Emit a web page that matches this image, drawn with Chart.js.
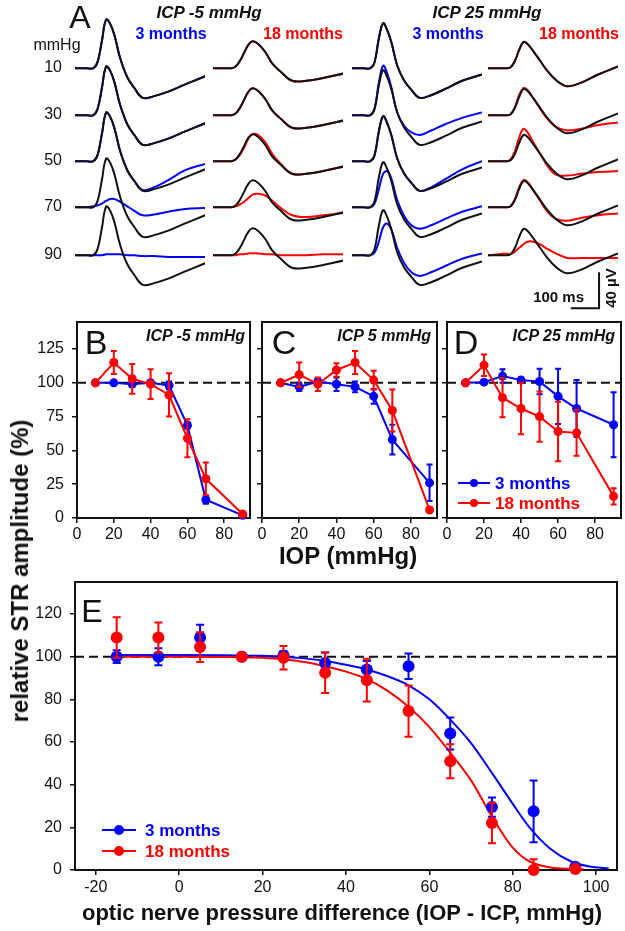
<!DOCTYPE html>
<html lang="en">

<head>
    <meta charset="UTF-8">
    <title>STR amplitude vs IOP and ICP</title>
    <script src="https://cdn.jsdelivr.net/npm/chart.js"></script>
    <style>
        html,
        body {
            margin: 0;
            padding: 0;
            background-color: #fff;
        }

        body {
            width: 625px;
            height: 931px;
            position: relative;
            overflow: hidden;
            font-family: "Liberation Sans", Arial, sans-serif;
            color: #111;
        }

        canvas {
            position: absolute;
        }

        .txt {
            position: absolute;
            white-space: nowrap;
            line-height: 1;
        }
    </style>
</head>

<body>
    <script>
        const BLUE = '#0000ff';
        const RED = '#ff0000';
        const seriesNames = ['3 months', '18 months'];

        // ---- Panel A: STR waveforms (time in ms, amplitude in µV) ----
        const waveTimeMs = [0, 40, 65, 80, 95, 110, 125, 140, 160, 185, 210, 240, 280, 330, 390, 460];
        const iopSteps = ['10', '30', '50', '70', '90'];

        const baseline3mIcpLow = [0, 0, 0, 7, 30, 54, 49, 36, 11, -10, -22, -33, -31, -26, -18, -9];
        const traces3mIcpLow = [
            [0, 0, 0, 7, 30, 54, 49, 36, 11, -10, -22, -33, -31, -26, -18, -9],
            [0, 0, 0, 7, 30, 54, 49, 36, 11, -10, -22, -33, -31, -26, -18, -9],
            [0, 0, 0, 7, 30, 54, 49, 36, 11, -10, -22, -32, -29, -21, -10, -3],
            [0, 0, 1, 2, 4, 7, 9, 9, 6, 1, -4, -9, -8, -5, -2, -1],
            [0, 0, 0, 0, 0, 1, 1, 1, 1, 0, 0, -1, -1, -2, -2, -2]
        ];

        const baseline18mIcpLow = [0, 0, 0, 2, 8, 17, 26, 30, 27, 18, 5, -4, -14, -14, -11, -6];
        const traces18mIcpLow = [
            [0, 0, 0, 2, 8, 17, 26, 30, 27, 18, 5, -4, -14, -14, -11, -6],
            [0, 0, 0, 2, 8, 17, 26, 30, 27, 18, 5, -4, -14, -14, -11, -6],
            [0, 0, 0, 2, 7, 15, 25, 30, 29, 21, 8, -3, -14, -14, -11, -6],
            [0, 0, 0, 1, 3, 6, 10, 14, 15, 13, 7, -1, -9, -11, -9, -6],
            [0, 0, 0, 0, 1, 1, 2, 2, 2, 1, 1, 0, 0, 0, 1, 1]
        ];

        const baseline3mIcpHigh = [0, 0, 0, 7, 33, 50, 42, 28, 3, -14, -24, -33, -30, -23, -14, -7];
        const traces3mIcpHigh = [
            [0, 0, 0, 7, 33, 50, 42, 28, 3, -14, -24, -33, -30, -23, -14, -7],
            [0, 0, 0, 8, 36, 55, 46, 30, 3, -12, -19, -22, -17, -10, -3, 3],
            [0, 0, 0, 7, 33, 50, 42, 28, 3, -14, -24, -33, -29, -20, -9, 0],
            [0, 0, 0, 4, 20, 37, 40, 31, 8, -10, -20, -24, -20, -13, -5, 1],
            [0, 0, 0, 3, 15, 31, 35, 28, 8, -9, -19, -23, -19, -12, -4, 2]
        ];

        const baseline18mIcpHigh = [0, 0, 0, 1, 8, 20, 29, 27, 19, 8, -3, -13, -20, -16, -7, 2];
        const traces18mIcpHigh = [
            [0, 0, 0, 1, 8, 20, 29, 27, 19, 8, -3, -13, -20, -16, -7, 2],
            [0, 0, 0, 1, 9, 22, 30, 28, 19, 7, -4, -13, -17, -15, -11, -8],
            [0, 0, 0, 2, 11, 26, 36, 32, 21, 8, -5, -15, -16, -14, -12, -11],
            [0, 0, 0, 1, 9, 22, 30, 28, 19, 7, -5, -13, -15, -12, -9, -7],
            [0, 1, 2, 1, 4, 8, 12, 15, 15, 12, 7, 2, -3, -3, -3, -3]
        ];

        const scaleBarMs = 100;
        const scaleBarUv = 40;

        // ---- Panels B-D: relative STR amplitude (%) vs IOP (mmHg) ----
        const iopLevels = [10, 20, 30, 40, 50, 60, 70, 90];
        const iopTicks = [0, 20, 40, 60, 80];
        const ampTicksBD = [0, 25, 50, 75, 100, 125];

        const icpLow3m = [100, 100, 99, 100, 98, 68.5, 13.5, 2];
        const icpLow3mErr = [1, 1.5, 2, 2, 3, 2.5, 3, 1];
        const icpLow18m = [100, 115, 103, 99, 91, 59, 29, 3];
        const icpLow18mErr = [1.5, 8.5, 11, 11, 16, 14, 12, 1];

        const icpMid3m = [100, 97, 101, 99, 97, 90, 58, 26];
        const icpMid3mErr = [1, 3, 2, 5, 4, 5.5, 11, 13.5];
        const icpMid18m = [100, 106, 99, 109.5, 115, 102, 79.5, 6];
        const icpMid18mErr = [1, 9, 5, 5, 8.5, 7, 15.5, 2];

        const icpHigh3m = [100, 100.5, 105, 102, 101, 90, 81, 69];
        const icpHigh3mErr = [1, 1, 5, 2, 9.5, 20.5, 21, 24];
        const icpHigh18m = [100, 113, 89, 81, 75, 64, 63, 16];
        const icpHigh18mErr = [1, 8, 14.5, 19, 18.5, 22, 17, 6];

        // ---- Panel E: amplitude vs optic nerve pressure difference ----
        const pressureDiff = [-15, -5, 5, 15, 25, 35, 45, 55, 65, 75, 85, 95];
        const diffTicks = [-20, 0, 20, 40, 60, 80, 100];
        const ampTicksE = [0, 20, 40, 60, 80, 100, 120];
        const diff3m = [100, 100, 109, 100, 100.5, 97, 94, 95.5, 64, 29.5, 27.5, 1.5];
        const diff3mErr = [3, 4, 6, 1, 2, 5, 4, 6, 7.5, 4.5, 14.5, 1];
        const diff18m = [109, 109, 104.5, 100, 99.5, 92.5, 89, 74.5, 51, 22, 0, 0.5];
        const diff18mErr = [9.5, 7, 7, 1, 5.5, 9.5, 10, 12, 8, 9.5, 5, 2];

        const fit3mX = [-15, 0, 10, 20, 25, 30, 35, 40, 45, 50, 55, 60, 65, 70, 75, 80, 84, 89, 94, 98.5, 103];
        const fit3mY = [100.8, 100.8, 100.7, 100.4, 100, 99.2, 98, 96.2, 94, 90.8, 86.6, 80, 70.5, 59.5, 45.5, 31, 20, 10, 4, 1.6, 0.7];
        const fit18mX = [-15, 0, 10, 20, 25, 30, 35, 40, 45, 50, 55, 60, 65, 70, 75, 80, 84, 89, 94, 97];
        const fit18mY = [100, 100, 99.9, 99.5, 98.8, 97.5, 95.5, 93, 89.5, 84, 76.5, 67, 55, 42, 25, 10.5, 4, 1.2, 0.5, 0.3];

        // ---------------------------------------------------------------
        Chart.defaults.font.family = '"Liberation Sans", Arial, sans-serif';
        Chart.defaults.font.size = 16;
        Chart.defaults.color = '#111';
        Chart.defaults.animation = false;

        const pairs = (xs, ys) => xs.map((x, i) => ({ x: x, y: ys[i] }));
        const fixedTicks = values => s => { s.ticks = values.map(v => ({ value: v })); };

        function makeCanvas(left, top, w, h) {
            const c = document.createElement('canvas');
            c.width = w;
            c.height = h;
            c.style.left = left + 'px';
            c.style.top = top + 'px';
            c.style.width = w + 'px';
            c.style.height = h + 'px';
            document.body.appendChild(c);
            return c;
        }

        function addText(text, x, y, css, anchor) {
            const d = document.createElement('div');
            d.className = 'txt';
            d.textContent = text;
            d.style.left = x + 'px';
            d.style.top = y + 'px';
            const tx = anchor === 'r' ? '-100%' : anchor === 'l' ? '0' : '-50%';
            d.style.transform = 'translate(' + tx + ',-50%)' + (css.rotate ? ' rotate(-90deg)' : '');
            d.style.font = css.font;
            d.style.color = css.color || '#111';
            document.body.appendChild(d);
        }

        // box around plot area
        const frame = {
            id: 'frame',
            beforeDatasetsDraw(chart) {
                const a = chart.chartArea, ctx = chart.ctx;
                ctx.save();
                ctx.strokeStyle = '#111';
                ctx.lineWidth = 2;
                ctx.strokeRect(a.left, a.top, a.right - a.left, a.bottom - a.top);
                ctx.restore();
            }
        };

        // dashed 100% line
        const refLine = {
            id: 'refLine',
            beforeDatasetsDraw(chart, args, opts) {
                const a = chart.chartArea, ctx = chart.ctx;
                const y = chart.scales.y.getPixelForValue(opts.value);
                ctx.save();
                ctx.strokeStyle = '#111';
                ctx.lineWidth = 2;
                ctx.setLineDash([9, 5]);
                ctx.beginPath();
                ctx.moveTo(a.left, y);
                ctx.lineTo(a.right, y);
                ctx.stroke();
                ctx.restore();
            }
        };

        const errorBars = {
            id: 'errorBars',
            afterDatasetDraw(chart, args, opts) {
                const ds = chart.data.datasets[args.index];
                if (!ds.errors) return;
                const ys = chart.scales.y, ctx = chart.ctx;
                const cap = opts.cap;
                ctx.save();
                ctx.strokeStyle = ds.borderColor;
                ctx.lineWidth = 2;
                args.meta.data.forEach((pt, i) => {
                    const e = ds.errors[i];
                    if (!e) return;
                    const v = ds.data[i].y;
                    const hiV = v + e, loV = v - e;
                    const top = ys.getPixelForValue(Math.min(hiV, ys.max));
                    const bot = ys.getPixelForValue(Math.max(loV, ys.min));
                    ctx.beginPath();
                    ctx.moveTo(pt.x, top);
                    ctx.lineTo(pt.x, bot);
                    ctx.moveTo(pt.x - cap, top);
                    ctx.lineTo(pt.x + cap, top);
                    if (loV >= ys.min) {
                        ctx.moveTo(pt.x - cap, bot);
                        ctx.lineTo(pt.x + cap, bot);
                    }
                    ctx.stroke();
                });
                ctx.restore();
            }
        };

        // legend with line + marker sample, inside plot area
        const sampleLegend = {
            id: 'sampleLegend',
            afterDraw(chart, args, opts) {
                const a = chart.chartArea, ctx = chart.ctx;
                opts.items.forEach(it => {
                    const y = a.top + it.dy;
                    ctx.save();
                    ctx.strokeStyle = it.color;
                    ctx.fillStyle = it.color;
                    ctx.lineWidth = 2;
                    ctx.beginPath();
                    ctx.moveTo(a.left + opts.x0, y);
                    ctx.lineTo(a.left + opts.x1, y);
                    ctx.stroke();
                    ctx.beginPath();
                    ctx.arc(a.left + (opts.x0 + opts.x1) / 2, y, opts.r, 0, Math.PI * 2);
                    ctx.fill();
                    ctx.font = 'bold 17px "Liberation Sans", Arial, sans-serif';
                    ctx.textBaseline = 'middle';
                    ctx.fillText(it.text, a.left + opts.tx, y + 1);
                    ctx.restore();
                });
            }
        };

        // 100 ms / 40 µV scale bar drawn through the cell's own scales
        const scaleBar = {
            id: 'scaleBar',
            afterDraw(chart, args, opts) {
                const xs = chart.scales.x, ys = chart.scales.y, ctx = chart.ctx;
                const xR = xs.getPixelForValue(opts.tEnd);
                const xL = xs.getPixelForValue(opts.tEnd - scaleBarMs);
                const yB = ys.getPixelForValue(opts.uvBottom);
                const yT = ys.getPixelForValue(opts.uvBottom + scaleBarUv);
                ctx.save();
                ctx.strokeStyle = '#111';
                ctx.lineWidth = 2;
                ctx.beginPath();
                ctx.moveTo(xL, yB);
                ctx.lineTo(xR, yB);
                ctx.lineTo(xR, yT);
                ctx.stroke();
                ctx.restore();
            }
        };

        // ---------------- Panel A ----------------
        const colLeft = [75, 213, 352, 488];
        const rowBase = [68, 115, 161, 207, 255];
        const columns = [
            { base: baseline3mIcpLow, traces: traces3mIcpLow, color: BLUE },
            { base: baseline18mIcpLow, traces: traces18mIcpLow, color: RED },
            { base: baseline3mIcpHigh, traces: traces3mIcpHigh, color: BLUE },
            { base: baseline18mIcpHigh, traces: traces18mIcpHigh, color: RED }
        ];

        columns.forEach((col, ci) => {
            col.traces.forEach((tr, ri) => {
                const canvas = makeCanvas(colLeft[ci], rowBase[ri] - 52, 130, 117);
                const bar = (ci === 3 && ri === 4) ? { tEnd: 393, uvBottom: -59 } : false;
                new Chart(canvas, {
                    type: 'line',
                    data: {
                        datasets: [
                            { data: pairs(waveTimeMs, col.base), borderColor: '#111', order: 1 },
                            { data: pairs(waveTimeMs, tr), borderColor: col.color, order: 2 }
                        ]
                    },
                    options: {
                        responsive: false,
                        devicePixelRatio: 1,
                        layout: { padding: 0, autoPadding: false },
                        datasets: { line: { clip: false } },
                        elements: {
                            point: { radius: 0 },
                            line: { borderWidth: 2, tension: 0.4 }
                        },
                        scales: {
                            x: { type: 'linear', min: 0, max: 460, display: false },
                            y: { min: -72, max: 58, display: false }
                        },
                        plugins: {
                            legend: { display: false },
                            tooltip: { enabled: false },
                            scaleBar: bar
                        }
                    },
                    plugins: [scaleBar]
                });
            });
        });

        addText('A', 80, 17, { font: '32px "Liberation Sans", Arial, sans-serif' });
        addText('mmHg', 57, 45, { font: '16px "Liberation Sans", Arial, sans-serif' });
        iopSteps.forEach((s, i) => addText(s, 62, rowBase[i] - 1, { font: '16px "Liberation Sans", Arial, sans-serif' }, 'r'));
        addText('ICP -5 mmHg', 209, 13, { font: 'italic bold 17px "Liberation Sans", Arial, sans-serif' });
        addText('ICP 25 mmHg', 487, 13, { font: 'italic bold 17px "Liberation Sans", Arial, sans-serif' });
        addText(seriesNames[0], 171, 34, { font: 'bold 16px "Liberation Sans", Arial, sans-serif', color: BLUE });
        addText(seriesNames[1], 303, 34, { font: 'bold 16px "Liberation Sans", Arial, sans-serif', color: RED });
        addText(seriesNames[0], 448, 34, { font: 'bold 16px "Liberation Sans", Arial, sans-serif', color: BLUE });
        addText(seriesNames[1], 579, 34, { font: 'bold 16px "Liberation Sans", Arial, sans-serif', color: RED });
        addText('100 ms', 584, 296, { font: 'bold 15px "Liberation Sans", Arial, sans-serif' }, 'r');
        addText('40 µV', 610, 288, { font: 'bold 15px "Liberation Sans", Arial, sans-serif', rotate: true });

        // ---------------- Panels B-D ----------------
        // plot box of every panel: top 322, bottom 518 (padding top 20 wins over tick-label padding)
        function iopPanel(left, axisW, width, p) {
            const canvas = makeCanvas(left, 302, width, 248);
            new Chart(canvas, {
                type: 'line',
                data: {
                    datasets: [
                        { data: pairs(iopLevels, p.old), errors: p.oldErr, borderColor: RED, backgroundColor: RED, order: 1 },
                        { data: pairs(iopLevels, p.young), errors: p.youngErr, borderColor: BLUE, backgroundColor: BLUE, order: 2 }
                    ]
                },
                options: {
                    responsive: false,
                    devicePixelRatio: 1,
                    layout: { padding: { top: 20, right: 6, left: 0, bottom: 0 }, autoPadding: false },
                    datasets: { line: { clip: false } },
                    elements: {
                        line: { borderWidth: 2, tension: 0 },
                        point: { radius: 4.5, borderWidth: 0 }
                    },
                    scales: {
                        x: {
                            type: 'linear', min: 0, max: 94,
                            afterBuildTicks: fixedTicks(iopTicks),
                            afterFit: s => { s.height = 32; },
                            border: { display: false },
                            grid: { drawOnChartArea: false, tickLength: 5, color: '#111', lineWidth: 1.5 },
                            ticks: { padding: 2, autoSkip: false, maxRotation: 0 }
                        },
                        y: {
                            min: 0, max: 145,
                            afterBuildTicks: fixedTicks(ampTicksBD),
                            afterFit: s => { s.width = axisW; },
                            border: { display: false },
                            grid: { drawOnChartArea: false, tickLength: 5, color: '#111', lineWidth: 1.5 },
                            ticks: { padding: 8, display: p.showY }
                        }
                    },
                    plugins: {
                        legend: { display: false },
                        tooltip: { enabled: false },
                        refLine: { value: 100 },
                        errorBars: { cap: 3 },
                        sampleLegend: p.legend || false
                    }
                },
                plugins: [frame, refLine, errorBars, sampleLegend]
            });
        }

        iopPanel(30, 47, 226, { young: icpLow3m, youngErr: icpLow3mErr, old: icpLow18m, oldErr: icpLow18mErr, showY: true });
        iopPanel(250, 12, 193, { young: icpMid3m, youngErr: icpMid3mErr, old: icpMid18m, oldErr: icpMid18mErr, showY: false });
        iopPanel(435, 12, 192, {
            young: icpHigh3m, youngErr: icpHigh3mErr, old: icpHigh18m, oldErr: icpHigh18mErr, showY: false,
            legend: {
                x0: 11, x1: 43, r: 4, tx: 48,
                items: [
                    { text: seriesNames[0], color: BLUE, dy: 161 },
                    { text: seriesNames[1], color: RED, dy: 181 }
                ]
            }
        });

        addText('B', 96, 342, { font: '34px "Liberation Sans", Arial, sans-serif' });
        addText('C', 284, 342, { font: '34px "Liberation Sans", Arial, sans-serif' });
        addText('D', 466, 342, { font: '34px "Liberation Sans", Arial, sans-serif' });
        addText('ICP -5 mmHg', 245, 336, { font: 'italic bold 16px "Liberation Sans", Arial, sans-serif' }, 'r');
        addText('ICP 5 mmHg', 431, 336, { font: 'italic bold 16px "Liberation Sans", Arial, sans-serif' }, 'r');
        addText('ICP 25 mmHg', 615, 336, { font: 'italic bold 16px "Liberation Sans", Arial, sans-serif' }, 'r');
        addText('IOP (mmHg)', 348, 556, { font: 'bold 24px "Liberation Sans", Arial, sans-serif' });

        // ---------------- Panel E ----------------
        const canvasE = makeCanvas(20, 562, 603, 338);
        new Chart(canvasE, {
            type: 'line',
            data: {
                datasets: [
                    { data: pairs(pressureDiff, diff18m), errors: diff18mErr, borderColor: RED, backgroundColor: RED, showLine: false, pointRadius: 6, order: 1 },
                    { data: pairs(pressureDiff, diff3m), errors: diff3mErr, borderColor: BLUE, backgroundColor: BLUE, showLine: false, pointRadius: 6, order: 2 },
                    { data: pairs(fit18mX, fit18mY), borderColor: RED, pointRadius: 0, cubicInterpolationMode: 'monotone', order: 3 },
                    { data: pairs(fit3mX, fit3mY), borderColor: BLUE, pointRadius: 0, cubicInterpolationMode: 'monotone', order: 4 }
                ]
            },
            options: {
                responsive: false,
                devicePixelRatio: 1,
                layout: { padding: { top: 20, right: 6, left: 0, bottom: 0 }, autoPadding: false },
                datasets: { line: { clip: false } },
                elements: {
                    line: { borderWidth: 2 },
                    point: { borderWidth: 0 }
                },
                scales: {
                    x: {
                        type: 'linear', min: -25, max: 105,
                        afterBuildTicks: fixedTicks(diffTicks),
                        afterFit: s => { s.height = 30; },
                        border: { display: false },
                        grid: { drawOnChartArea: false, tickLength: 5, color: '#111', lineWidth: 1.5 },
                        ticks: { padding: 3, autoSkip: false, maxRotation: 0 }
                    },
                    y: {
                        min: 0, max: 135,
                        afterBuildTicks: fixedTicks(ampTicksE),
                        afterFit: s => { s.width = 55; },
                        border: { display: false },
                        grid: { drawOnChartArea: false, tickLength: 5, color: '#111', lineWidth: 1.5 },
                        ticks: { padding: 8 }
                    }
                },
                plugins: {
                    legend: { display: false },
                    tooltip: { enabled: false },
                    refLine: { value: 100 },
                    errorBars: { cap: 4 },
                    sampleLegend: {
                        x0: 27, x1: 61, r: 5, tx: 70,
                        items: [
                            { text: seriesNames[0], color: BLUE, dy: 248 },
                            { text: seriesNames[1], color: RED, dy: 269 }
                        ]
                    }
                }
            },
            plugins: [frame, refLine, errorBars, sampleLegend]
        });

        addText('E', 92, 611, { font: '32px "Liberation Sans", Arial, sans-serif' });
        addText('optic nerve pressure difference (IOP - ICP, mmHg)', 342, 913, { font: 'bold 22px "Liberation Sans", Arial, sans-serif' });
        addText('relative STR amplitude (%)', 20, 571, { font: 'bold 24px "Liberation Sans", Arial, sans-serif', rotate: true });
    </script>
</body>

</html>
